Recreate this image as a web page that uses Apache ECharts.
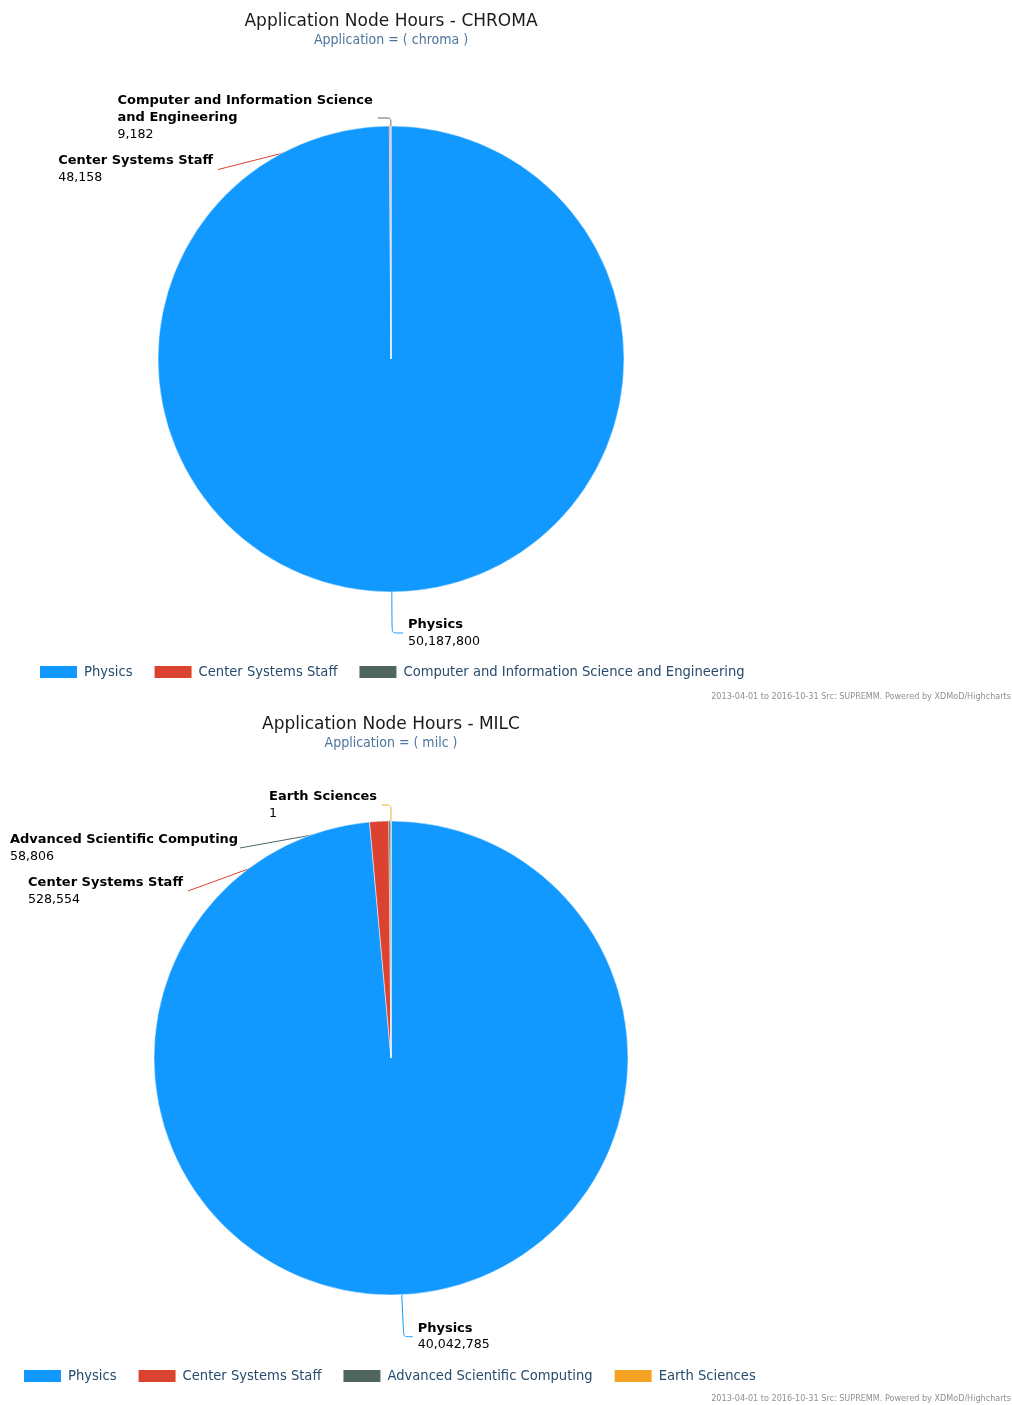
<!DOCTYPE html>
<html><head><meta charset="utf-8">
<script src="https://cdn.jsdelivr.net/npm/echarts@6/dist/echarts.min.js"></script>
<style>html,body{margin:0;padding:0;background:#fff}#c1{width:1012px;height:703px}#c2{width:1012px;height:702px}</style>
</head><body>
<div id="c1"></div><div id="c2"></div>
<script>
// ---- data ----
const chromaTitle = 'Application Node Hours - CHROMA';
const chromaSubtitle = 'Application = ( chroma )';
const chromaCategories = ['Physics', 'Center Systems Staff', 'Computer and Information Science and Engineering'];
const chromaValues = [50187800, 48158, 9182];

const milcTitle = 'Application Node Hours - MILC';
const milcSubtitle = 'Application = ( milc )';
const milcCategories = ['Physics', 'Center Systems Staff', 'Advanced Scientific Computing', 'Earth Sciences'];
const milcValues = [40042785, 528554, 58806, 1];

const creditText = '2013-04-01 to 2016-10-31 Src: SUPREMM. Powered by XDMoD/Highcharts';
const palette = ['#1199ff', '#db4230', '#4e665d', '#f4a221'];

// connector lengths (styling, not data)
const chromaLineLen = [[41, 11], [8, 29], [8, 13]];
const milcLineLen = [[42, 9], [16, 18], [16, 15], [16, 9]];

function wrap(s, max) {
  const words = s.split(' '); const lines = []; let cur = '';
  words.forEach(w => {
    if (cur && (cur + ' ' + w).length > max) { lines.push(cur); cur = w; }
    else cur = cur ? cur + ' ' + w : w;
  });
  if (cur) lines.push(cur);
  return lines;
}

function build(el, title, subtitle, cats, vals, center, radius, legendLeft, legendTop, lineLen) {
  const chart = echarts.init(document.getElementById(el));
  chart.setOption({
    animation: false,
    color: palette,
    title: [{
      text: title, subtext: subtitle, left: center[0], top: 13, textAlign: 'center', itemGap: 3, padding: 0,
      textStyle: { fontFamily: 'DejaVu Sans', fontSize: 17, fontWeight: 'normal', color: '#1a1a1a' },
      subtextStyle: { fontFamily: 'DejaVu Sans Condensed', fontSize: 14, color: '#4d759e' }
    }, {
      text: creditText, right: 1, bottom: 2, padding: 0,
      textStyle: { fontFamily: 'DejaVu Sans Condensed', fontSize: 9, fontWeight: 'normal', color: '#909090' }
    }],
    legend: {
      left: legendLeft, top: legendTop, padding: 0, itemWidth: 39, itemHeight: 14, itemGap: 20, icon: 'rect',
      textStyle: { fontFamily: 'DejaVu Sans Condensed', fontSize: 14.6, color: '#274b6d', padding: [0, 0, 0, 1] },
      data: cats
    },
    series: [{
      type: 'pie', center: center, radius: radius, startAngle: 90, clockwise: true,
      avoidLabelOverlap: true,
      itemStyle: { borderColor: '#ffffff', borderWidth: 0.5 },
      data: cats.map((c, i) => ({ name: c, value: vals[i], labelLine: { length: lineLen[i][0], length2: lineLen[i][1] } })),
      label: {
        show: true, overflow: 'none',
        formatter: p => '{s| }\n' + wrap(p.name, 33).map(l => '{n|' + l + '}').join('\n') +
          '\n{v|' + p.value.toLocaleString('en-US') + '}\n{s| }',
        rich: {
          s: { fontSize: 1, lineHeight: 6 },
          n: { fontFamily: 'DejaVu Sans', fontWeight: 'bold', fontSize: 13, color: '#000', lineHeight: 17, align: 'left' },
          v: { fontFamily: 'DejaVu Sans', fontSize: 12.6, color: '#000', lineHeight: 17, align: 'left' }
        }
      },
      labelLine: { show: true, smooth: 0.2, lineStyle: { width: 1 } },
      emphasis: { disabled: true }
    }]
  });
}
build('c1', chromaTitle, chromaSubtitle, chromaCategories, chromaValues, [391, 359], 233, 38, 664, chromaLineLen);
build('c2', milcTitle, milcSubtitle, milcCategories, milcValues, [391, 355], 237, 22, 665, milcLineLen);
</script>
</body></html>
